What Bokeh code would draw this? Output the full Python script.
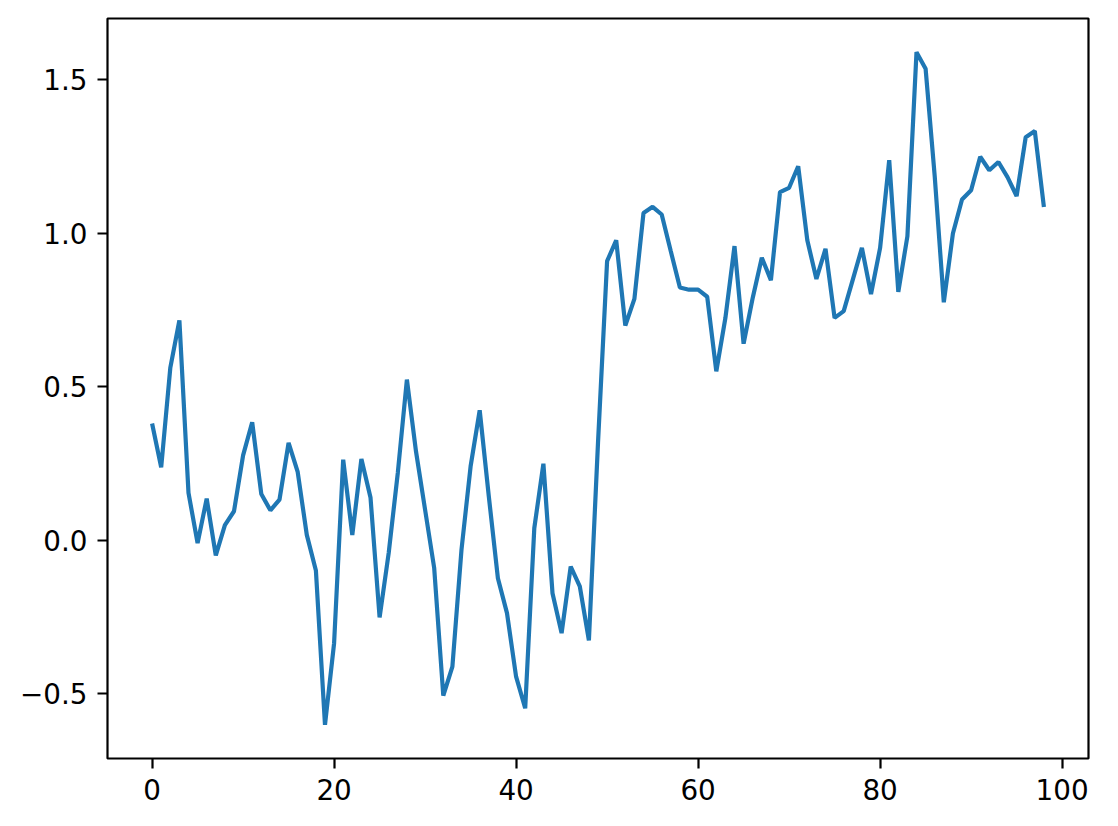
from bokeh.plotting import figure
from bokeh.models import Range1d, FixedTicker
from bokeh.embed import file_html
from bokeh.resources import INLINE

# data
y_values = [
    0.380, 0.237, 0.561, 0.716, 0.154, -0.010, 0.135, -0.050, 0.049, 0.094,
    0.276, 0.384, 0.150, 0.097, 0.132, 0.317, 0.222, 0.017, -0.099, -0.602,
    -0.336, 0.262, 0.017, 0.264, 0.139, -0.252, -0.042, 0.219, 0.523, 0.289,
    0.099, -0.091, -0.507, -0.412, -0.031, 0.240, 0.423, 0.143, -0.124, -0.238,
    -0.445, -0.548, 0.039, 0.249, -0.173, -0.303, -0.086, -0.151, -0.327, 0.317,
    0.909, 0.977, 0.699, 0.786, 1.066, 1.086, 1.061, 0.941, 0.823, 0.816,
    0.816, 0.793, 0.550, 0.724, 0.958, 0.640, 0.789, 0.920, 0.847, 1.134,
    1.148, 1.218, 0.977, 0.851, 0.949, 0.724, 0.746, 0.849, 0.952, 0.802,
    0.952, 1.238, 0.809, 0.990, 1.590, 1.536, 1.186, 0.775, 0.999, 1.110,
    1.140, 1.249, 1.205, 1.232, 1.183, 1.121, 1.313, 1.333, 1.085,
]
x_values = list(range(len(y_values)))
x_ticks = [0, 20, 40, 60, 80, 100]
y_ticks = [-0.5, 0.0, 0.5, 1.0, 1.5]
y_tick_labels = ["\u22120.5", "0.0", "0.5", "1.0", "1.5"]

xmin, xmax = min(x_values), max(x_values)
ymin, ymax = min(y_values), max(y_values)
dx, dy = xmax - xmin, ymax - ymin

p = figure(width=1110, height=818, output_backend="svg", toolbar_location=None,
           x_range=Range1d(xmin - 0.05 * dx, xmax + 0.05 * dx),
           y_range=Range1d(ymin - 0.05 * dy, ymax + 0.05 * dy),
           min_border_left=107, min_border_top=18, min_border_right=22, min_border_bottom=60)

p.line(x_values, y_values, line_color="#1f77b4", line_width=4.2)

p.xgrid.visible = False
p.ygrid.visible = False
p.outline_line_color = "black"
p.outline_line_width = 2.2
p.background_fill_color = "white"
p.border_fill_color = "white"

p.xaxis.ticker = FixedTicker(ticks=x_ticks)
p.yaxis.ticker = FixedTicker(ticks=y_ticks)
p.yaxis.major_label_overrides = {t: l for t, l in zip(y_ticks, y_tick_labels)}

for ax in (p.xaxis, p.yaxis):
    ax.axis_line_color = None
    ax.major_tick_in = 0
    ax.major_tick_out = 10
    ax.major_tick_line_width = 2.2
    ax.major_tick_line_color = "black"
    ax.minor_tick_line_color = None
    ax.major_label_text_font = "DejaVu Sans"
    ax.major_label_text_font_size = "27.8px"
    ax.major_label_text_color = "black"
p.xaxis.major_label_standoff = 10
p.yaxis.major_label_standoff = 10

open("out.html", "w").write(file_html(p, INLINE))
